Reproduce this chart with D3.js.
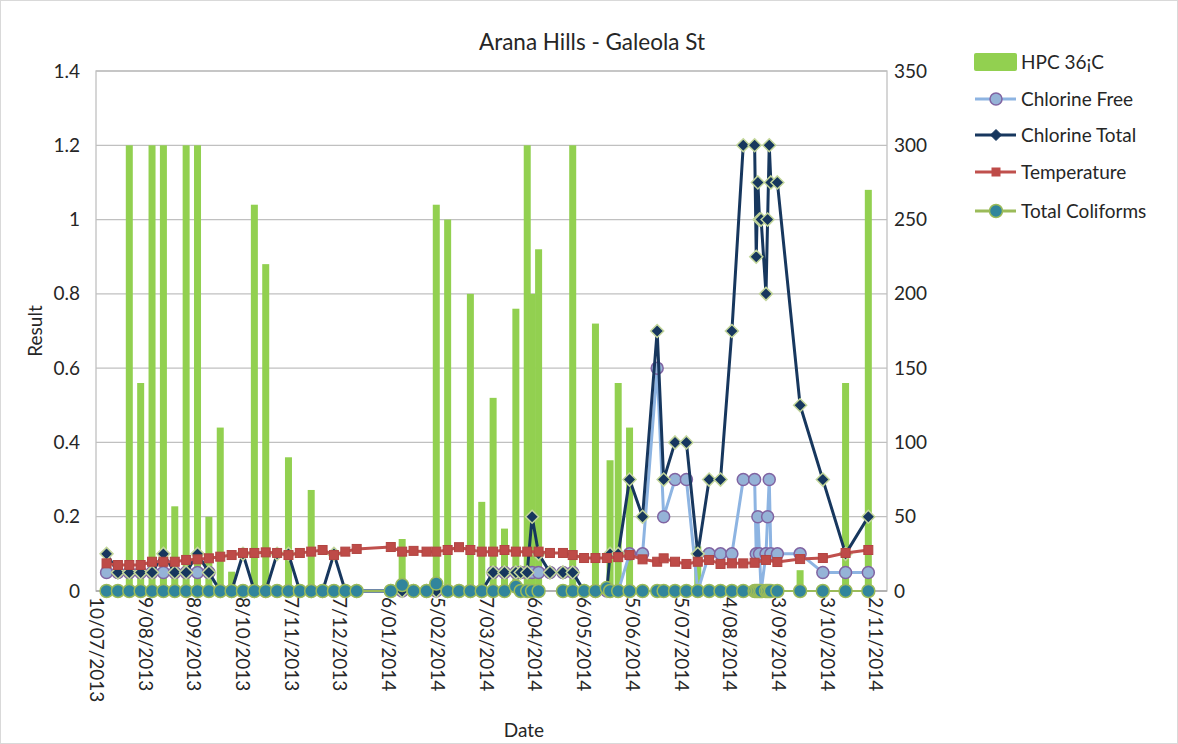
<!DOCTYPE html>
<html>
<head>
<meta charset="utf-8">
<script src="https://cdn.jsdelivr.net/npm/d3@7"></script>
<style>
  body { margin: 0; background: #fff; }
  text { font-family: Lato, "Open Sans", sans-serif; fill: #262626; }
</style>
</head>
<body>
<svg id="chart" width="1178" height="744"></svg>
<script>
// ---- Sample data: Arana Hills - Galeola St ----
const sampleDates = [
  "2013-07-16","2013-07-23","2013-07-30","2013-08-06","2013-08-13","2013-08-20","2013-08-27",
  "2013-09-03","2013-09-10","2013-09-17","2013-09-24","2013-10-01","2013-10-08","2013-10-15",
  "2013-10-22","2013-10-29","2013-11-05","2013-11-12","2013-11-19","2013-11-26","2013-12-03",
  "2013-12-10","2013-12-17",
  "2014-01-07","2014-01-14","2014-01-21","2014-01-29","2014-02-04","2014-02-11","2014-02-18",
  "2014-02-25","2014-03-04","2014-03-11","2014-03-18","2014-03-25","2014-03-28","2014-04-01",
  "2014-04-04","2014-04-08","2014-04-15","2014-04-23","2014-04-29","2014-05-06","2014-05-13",
  "2014-05-20","2014-05-22","2014-05-27","2014-06-03","2014-06-11","2014-06-20","2014-06-24",
  "2014-07-01","2014-07-08","2014-07-15","2014-07-22","2014-07-29","2014-08-05","2014-08-12",
  "2014-08-19","2014-08-20","2014-08-21","2014-08-22","2014-08-23","2014-08-26","2014-08-27",
  "2014-08-28","2014-08-29","2014-09-02","2014-09-16","2014-09-30","2014-10-14","2014-10-28"
];

// HPC 36°C (secondary axis)
const hpc = [
  0, 0, 300, 140, 300, 300, 57,
  300, 300, 50, 110, 13, 0, 260,
  220, 0, 90, 0, 68, 0, 0,
  0, 0,
  0, 35, 0, 0, 260, 250, 0,
  200, 60, 130, 42, 190, 0, 300,
  200, 230, 0, 0, 300, 0, 180,
  0, 88, 140, 110, 0, 0, 0,
  0, 0, 30, 0, 0, 0, 0,
  0, 0, 0, 0, 0, 0, 0,
  0, 0, 0, 14, 0, 140, 270
];

// Chlorine Free (primary axis)
const chlorineFree = [
  0.05, 0.05, 0.05, 0.05, 0.05, 0.05, 0.05,
  0.05, 0.05, 0.05, 0, 0, 0, 0,
  0, 0, 0, 0, 0, 0, 0,
  0, 0,
  0, 0, 0, 0, 0, 0, 0,
  0, 0, 0.05, 0.05, 0.05, 0.05, 0.05,
  0.05, 0.05, 0.05, 0.05, 0.05, 0, 0,
  0, 0, 0, 0.1, 0.1, 0.6, 0.2,
  0.3, 0.3, 0, 0.1, 0.1, 0.1, 0.3,
  0.3, 0.1, 0.2, 0.1, 0, 0.1, 0.2,
  0.3, 0.1, 0.1, 0.1, 0.05, 0.05, 0.05
];

// Chlorine Total (primary axis)
const chlorineTotal = [
  0.1, 0.05, 0.05, 0.05, 0.05, 0.1, 0.05,
  0.05, 0.1, 0.05, 0, 0, 0.1, 0,
  0, 0.1, 0.1, 0, 0, 0, 0.1,
  0, 0,
  0, 0, 0, 0, 0, 0, 0,
  0, 0, 0.05, 0.05, 0.05, 0.05, 0.05,
  0.2, 0.1, 0.05, 0.05, 0.05, 0, 0,
  0, 0.1, 0.1, 0.3, 0.2, 0.7, 0.3,
  0.4, 0.4, 0.1, 0.3, 0.3, 0.7, 1.2,
  1.2, 0.9, 1.1, 1.0, 1.0, 0.8, 1.0,
  1.2, 1.1, 1.1, 0.5, 0.3, 0.1, 0.2
];

// Temperature (secondary axis), null where not recorded
const temperature = [
  18.6, 17.5, 17.5, 17.5, 19.7, 19.7, 19.7,
  20.9, 21.3, 22, 23.1, 24.2, 25.6, 25.6,
  26, 25.6, 24.2, 25.6, 26.5, 27.6, 24.2,
  26.5, 28.3,
  29.6, 26.5, 27, 26.5, 26.5, 27.6, 29.5,
  27.6, 26.5, 26.5, 27.6, 26.5, null, 26.5,
  null, 26.5, 25.6, 25.6, 24.2, 22.2, 22.2,
  22.2, null, 22.8, 24.2, 21.3, 19.7, 22,
  19.7, 18.2, 19.7, 20.9, 18.2, 18.6, 18.6,
  19, null, null, null, null, 20.9, null,
  null, null, 19.5, 21.5, 22.2, 25.6, 27.6
];

// Total Coliforms (secondary axis), null where not recorded
const totalColiforms = [
  0, 0, 0, 0, 0, 0, 0,
  0, 0, 0, 0, 0, 0, 0,
  0, 0, 0, 0, 0, 0, 0,
  0, 0,
  0, 4, 0, 0, 5, 0, 0,
  0, 0, 0, 0, 3, 0, 0,
  0, 0, null, 0, 0, 0, 0,
  2, 0, 0, 0, 0, 0, 0,
  0, 0, 0, 0, 0, 0, 0,
  0, 0, 0, 0, 0, 0, 0,
  0, 0, 0, 0, 0, 0, 0
];

const dateTickLabels = [
  "10/07/2013","9/08/2013","8/09/2013","8/10/2013","7/11/2013","7/12/2013",
  "6/01/2014","5/02/2014","7/03/2014","6/04/2014","6/05/2014","5/06/2014",
  "5/07/2014","4/08/2014","3/09/2014","3/10/2014","2/11/2014"
];
const resultTicks = [0, 0.2, 0.4, 0.6, 0.8, 1, 1.2, 1.4];
const secondaryTicks = [0, 50, 100, 150, 200, 250, 300, 350];

// ---- Layout ----
const W = 1178, H = 744;
const plot = { left: 96, right: 887, top: 71, bottom: 591 };

const parseISO = d3.timeParse("%Y-%m-%d");
const parseTick = d3.timeParse("%d/%m/%Y");

// each sample sits in the middle of its day on the date axis
const rows = sampleDates.map((s, i) => ({
  date: d3.timeHour.offset(parseISO(s), 12),
  hpc: hpc[i],
  free: chlorineFree[i],
  total: chlorineTotal[i],
  temp: temperature[i],
  coli: totalColiforms[i]
}));

const x = d3.scaleTime()
  .domain([parseTick("10/07/2013"), parseTick("9/11/2014")])
  .range([plot.left, plot.right]);
const y = d3.scaleLinear().domain([0, 1.4]).range([plot.bottom, plot.top]);
const y2 = d3.scaleLinear().domain([0, 350]).range([plot.bottom, plot.top]);

const svg = d3.select("#chart");
svg.append("rect").attr("width", W).attr("height", H).attr("fill", "#fff");
svg.append("rect").attr("x", 0.5).attr("y", 0.5).attr("width", W - 1).attr("height", H - 1)
  .attr("fill", "none").attr("stroke", "#d9d9d9");

// Gridlines
svg.append("g").selectAll("line").data(resultTicks.filter(t => t > 0)).join("line")
  .attr("x1", plot.left).attr("x2", plot.right)
  .attr("y1", d => y(d)).attr("y2", d => y(d))
  .attr("stroke", "#c0c0c0").attr("stroke-width", 1.3);

// Plot border
svg.append("rect")
  .attr("x", plot.left).attr("y", plot.top)
  .attr("width", plot.right - plot.left).attr("height", plot.bottom - plot.top)
  .attr("fill", "none").attr("stroke", "#c0c0c0").attr("stroke-width", 1.3);

// Axes
const fmtResult = d => String(+d.toFixed(1));
const gLeft = svg.append("g").attr("transform", `translate(${plot.left},0)`)
  .call(d3.axisLeft(y).tickValues(resultTicks).tickFormat(fmtResult).tickSize(0).tickPadding(16));
const gRight = svg.append("g").attr("transform", `translate(${plot.right},0)`)
  .call(d3.axisRight(y2).tickValues(secondaryTicks).tickSize(0).tickPadding(7));
const tickDates = dateTickLabels.map(parseTick);
const gBottom = svg.append("g").attr("transform", `translate(0,${plot.bottom})`)
  .call(d3.axisBottom(x).tickValues(tickDates)
    .tickFormat((d, i) => dateTickLabels[i]).tickSize(0));
[gLeft, gRight, gBottom].forEach(g => {
  g.select(".domain").remove();
  g.selectAll("text").style("font-family", "Lato, sans-serif").style("font-size", "19px")
    .attr("fill", "#262626");
});
gBottom.selectAll(".tick text")
  .attr("transform", "rotate(90)")
  .attr("x", 6).attr("y", 0).attr("dy", "0.35em")
  .attr("text-anchor", "start");
// bottom axis line
svg.append("line").attr("x1", plot.left).attr("x2", plot.right)
  .attr("y1", plot.bottom).attr("y2", plot.bottom)
  .attr("stroke", "#a6a6a6").attr("stroke-width", 1.3);

// HPC columns
const barW = 7;
svg.append("g").selectAll("rect").data(rows.filter(d => d.hpc > 0)).join("rect")
  .attr("x", d => x(d.date) - barW / 2)
  .attr("y", d => y2(d.hpc))
  .attr("width", barW)
  .attr("height", d => y2(0) - y2(d.hpc))
  .attr("fill", "#92d050");

// line helper: connect=true joins across missing readings, false leaves a gap
function drawLine(data, yScale, key, color, width, connect) {
  const line = d3.line()
    .defined(d => d[key] != null)
    .x(d => x(d.date)).y(d => yScale(d[key]));
  const src = connect ? data.filter(d => d[key] != null) : data;
  svg.append("path").datum(src)
    .attr("d", line).attr("fill", "none")
    .attr("stroke", color).attr("stroke-width", width)
    .attr("stroke-linejoin", "round");
}

const diamond = s => `M0,${-s}L${s},0L0,${s}L${-s},0Z`;

// Chlorine Free
drawLine(rows, y, "free", "#8db4e2", 3, true);
svg.append("g").selectAll("circle").data(rows.filter(d => d.free != null)).join("circle")
  .attr("cx", d => x(d.date)).attr("cy", d => y(d.free)).attr("r", 6)
  .attr("fill", "#95b3d7").attr("stroke", "#8064a2").attr("stroke-width", 1.5);

// Chlorine Total
drawLine(rows, y, "total", "#17375e", 3, true);
svg.append("g").selectAll("path").data(rows.filter(d => d.total != null)).join("path")
  .attr("transform", d => `translate(${x(d.date)},${y(d.total)})`)
  .attr("d", diamond(6.5))
  .attr("fill", "#17375e").attr("stroke", "#c3d69b").attr("stroke-width", 1.5);

// Temperature
drawLine(rows, y2, "temp", "#c0504d", 3, true);
svg.append("g").selectAll("rect").data(rows.filter(d => d.temp != null)).join("rect")
  .attr("x", d => x(d.date) - 4.5).attr("y", d => y2(d.temp) - 4.5)
  .attr("width", 9).attr("height", 9)
  .attr("fill", "#be4b48").attr("stroke", "#b24542").attr("stroke-width", 1);

// Total Coliforms
drawLine(rows, y2, "coli", "#9bbb59", 2.2, false);
svg.append("g").selectAll("circle").data(rows.filter(d => d.coli != null)).join("circle")
  .attr("cx", d => x(d.date)).attr("cy", d => y2(d.coli)).attr("r", 6.5)
  .attr("fill", "#31859c").attr("stroke", "#9bbb59").attr("stroke-width", 1.5);

// Titles
svg.append("text").attr("x", 592).attr("y", 50).attr("text-anchor", "middle")
  .style("font-size", "22.5px").text("Arana Hills - Galeola St");
svg.append("text").attr("transform", "translate(35,331) rotate(-90)")
  .attr("text-anchor", "middle").attr("dy", "0.35em")
  .style("font-size", "19px").text("Result");
svg.append("text").attr("x", 524).attr("y", 737).attr("text-anchor", "middle")
  .style("font-size", "19px").text("Date");

// Legend
const legendItems = [
  { name: "HPC 36¡C", type: "bar" },
  { name: "Chlorine Free", type: "free" },
  { name: "Chlorine Total", type: "total" },
  { name: "Temperature", type: "temp" },
  { name: "Total Coliforms", type: "coli" }
];
const legendY = [62, 99, 135, 172, 211];
const lg = svg.append("g");
legendItems.forEach((it, i) => {
  const cy = legendY[i];
  const g = lg.append("g");
  if (it.type === "bar") {
    g.append("rect").attr("x", 974).attr("y", cy - 9).attr("width", 43).attr("height", 18)
      .attr("rx", 2).attr("fill", "#92d050");
  } else {
    const col = { free: "#8db4e2", total: "#17375e", temp: "#c0504d", coli: "#9bbb59" }[it.type];
    g.append("line").attr("x1", 975).attr("x2", 1016).attr("y1", cy).attr("y2", cy)
      .attr("stroke", col).attr("stroke-width", 3);
    if (it.type === "free") {
      g.append("circle").attr("cx", 996).attr("cy", cy).attr("r", 6)
        .attr("fill", "#95b3d7").attr("stroke", "#8064a2").attr("stroke-width", 1.5);
    } else if (it.type === "total") {
      g.append("path").attr("transform", `translate(996,${cy})`).attr("d", diamond(5.5))
        .attr("fill", "#17375e").attr("stroke", "#17375e").attr("stroke-width", 1);
    } else if (it.type === "temp") {
      g.append("rect").attr("x", 991.5).attr("y", cy - 4.5).attr("width", 9).attr("height", 9)
        .attr("fill", "#be4b48");
    } else {
      g.append("circle").attr("cx", 996).attr("cy", cy).attr("r", 6.5)
        .attr("fill", "#31859c").attr("stroke", "#9bbb59").attr("stroke-width", 1.5);
    }
  }
  g.append("text").attr("x", 1021).attr("y", cy).attr("dy", "0.35em")
    .style("font-size", "19px").text(it.name);
});
</script>
</body>
</html>
